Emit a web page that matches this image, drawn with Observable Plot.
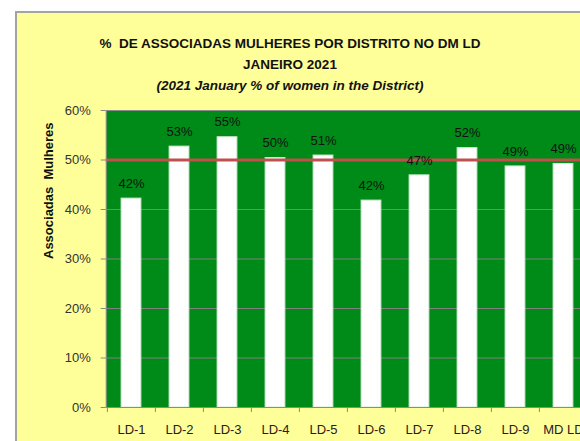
<!DOCTYPE html>
<html>
<head>
<meta charset="utf-8">
<script src="https://cdn.jsdelivr.net/npm/d3@7"></script>
<script src="https://cdn.jsdelivr.net/npm/@observablehq/plot@0.6"></script>
<style>
  html, body { margin: 0; padding: 0; background: #ffffff; overflow: hidden; width: 580px; height: 441px; }
  #panel { position: absolute; left: 15px; top: 11px; width: 700px; height: 500px; background: #FFFF99;
           border-left: 2px solid #a3a3a3; border-top: 2px solid #a3a3a3; }
  #title { position: absolute; left: 0; top: 33px; width: 580px; text-align: center;
           font: bold 13.5px "Liberation Sans", Arial, sans-serif; line-height: 21px; color: #111; }
  #title .en { font-style: italic; }
  #chart { position: absolute; left: 0; top: 100px; width: 600px; }
  #chart svg { max-width: none !important; }
</style>
</head>
<body>
<div id="panel"></div>
<div id="title">
  <div>%&nbsp; DE ASSOCIADAS MULHERES POR DISTRITO NO DM LD</div>
  <div>JANEIRO 2021</div>
  <div class="en">(2021 January % of women in the District)</div>
</div>
<div id="chart"></div>
<script>
const districts = ["LD-1", "LD-2", "LD-3", "LD-4", "LD-5", "LD-6", "LD-7", "LD-8", "LD-9", "MD LD"];
const womenShare = [0.422, 0.527, 0.546, 0.504, 0.509, 0.418, 0.469, 0.524, 0.487, 0.492];
const yTicks = [0, 0.1, 0.2, 0.3, 0.4, 0.5, 0.6];
const targetLine = [0.5];
const yTitle = "Associadas  Mulheres";

const data = districts.map((d, i) => ({district: d, value: womenShare[i]}));
const pct = d3.format(".0%");

const chart = Plot.plot({
  width: 600,
  height: 341,
  marginLeft: 105.7,
  marginRight: 12.3,
  marginTop: 10,
  marginBottom: 34,
  style: {background: "transparent", fontFamily: "'Liberation Sans', Arial, sans-serif", fontSize: "13px", color: "#222", maxWidth: "none"},
  x: {domain: districts, padding: 0, label: null},
  y: {domain: [0, 0.6], label: null},
  marks: [
    Plot.frame({fill: "#008A17"}),
    Plot.gridY(yTicks, {stroke: "#808080", strokeOpacity: 1, strokeWidth: 1}),
    Plot.barY(data, {x: "district", y: "value", fill: "white", stroke: "#cfe8cf", strokeWidth: 1, insetLeft: 14.1, insetRight: 14.1}),
    Plot.ruleY(targetLine, {stroke: "#C0504D", strokeWidth: 3}),
    Plot.text(data, {x: "district", y: "value", text: d => pct(d.value), dy: -15, fill: "#111", fontSize: 13}),
    Plot.frame({stroke: "#8a8a8a"}),
    Plot.axisY(yTicks, {tickSize: 5, tickPadding: 10.5, tickFormat: pct, stroke: "#8a8a8a", fill: "#333", label: null}),
    Plot.axisX({tickSize: 0, tickPadding: 17.5, fill: "#2a1a1f", label: null}),
    Plot.axisX({tickSize: 5, tickFormat: () => "", dx: -24.1, stroke: "#8a8a8a", label: null}),
    Plot.text([yTitle], {text: d => d, frameAnchor: "left", rotate: -90, dx: -57, fontWeight: "bold", fontSize: 13, fill: "#111"})
  ]
});
document.getElementById("chart").appendChild(chart);
</script>
</body>
</html>
